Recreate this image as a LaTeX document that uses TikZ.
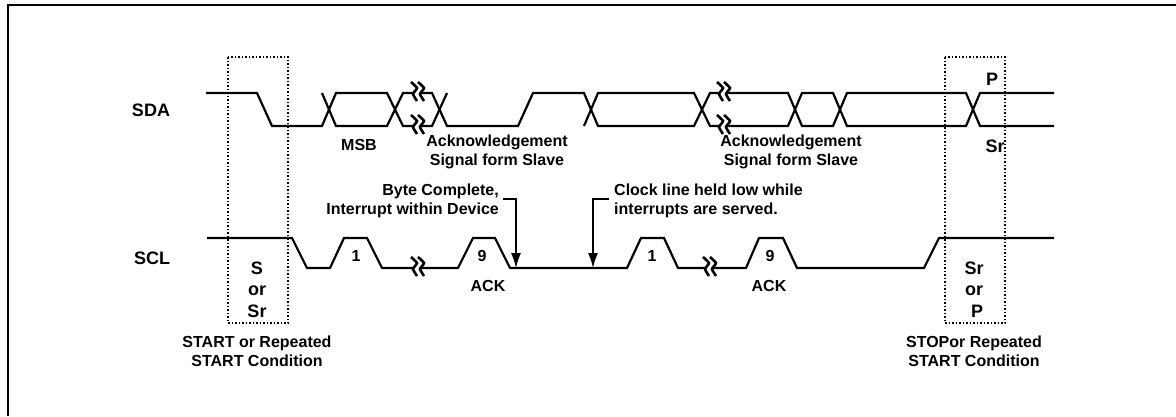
\documentclass[tikz,border=0pt]{standalone}
\usepackage{fontspec}
\setmainfont{Liberation Sans}
\usetikzlibrary{arrows.meta}
\tikzset{
	signal/.style={line width=2.2pt,line join=miter},
	guard/.style={line width=1.5pt,dash pattern=on 1.5pt off 2pt},
	lab/.style={font=\bfseries\fontsize{16}{19}\selectfont,align=center,inner sep=0pt},
	biglab/.style={font=\bfseries\fontsize{18}{20}\selectfont,inner sep=0pt},
	pointer/.style={line width=1.5pt,-{Latex[length=15pt,width=10pt]}},
}
\newcommand{\sigbreak}[2]{
	\begin{scope}[shift={(#1,#2)}]
		\fill[white] (-4,-6) rectangle (3,6);
		\draw[line width=2.6pt] plot [smooth, tension=.3] coordinates {(-7,-11) (-1,-5) (-5,1) (-1,8)};
		\draw[line width=2.6pt] plot [smooth, tension=.3] coordinates {(0,-11) (6,-5) (2,1) (6,8)};
	\end{scope}
}
\begin{document}
\begin{tikzpicture}[x=1pt,y=-1pt]
	\useasboundingbox (0,0) rectangle (1176,416);
	\coordinate (byteTop) at (503,199);
	\coordinate (byteKnee) at (516,199);
	\coordinate (byteEnd) at (516,268);
	\coordinate (clockTop) at (609,199);
	\coordinate (clockKnee) at (593,199);
	\coordinate (clockEnd) at (593,268);

	% frame
	\draw[line width=2pt] (8,416) -- (8,5) -- (1176,5);

	% start and stop windows
	\draw[guard] (228,57) rectangle (288,323);
	\draw[guard] (945,57) rectangle (1005,323);

	% SDA
	\begin{scope}[signal]
	\draw (206,93) -- (257,93) -- (272,126) -- (322,126) -- (336,93) -- (387,93) -- (403,126) -- (432,126) -- (447,93);
	\draw (322,93) -- (336,126) -- (387,126) -- (403,93) -- (432,93) -- (447,126) -- (518,126) -- (533,93) -- (584,93) -- (598,126) -- (694,126) -- (710,93) -- (788,93) -- (802,126) -- (833,126) -- (847,93) -- (966,93) -- (980,126) -- (1054,126);
	\draw (584,126) -- (598,93) -- (694,93) -- (710,126) -- (788,126) -- (802,93) -- (833,93) -- (847,126) -- (966,126) -- (980,93) -- (1054,93);
	\end{scope}
	\sigbreak{418}{93}
	\sigbreak{418}{126}
	\sigbreak{724}{93}
	\sigbreak{724}{126}

	% SCL
	\draw[signal] (207,238) -- (292,238) -- (307,268) -- (330,268) -- (344,238) -- (367,238) -- (382,268) -- (458,268) -- (473,238) -- (495,238) -- (510,268) -- (627,268) -- (641,238) -- (664,238) -- (678,268) -- (746,268) -- (759,238) -- (783,238) -- (797,268) -- (924,268) -- (939,238) -- (1054,238);
	\sigbreak{418}{268}
	\sigbreak{710}{268}

	% arrows
	\draw[pointer] (byteTop) -- (byteKnee) -- (byteEnd);
	\draw[pointer] (clockTop) -- (clockKnee) -- (clockEnd);

	% labels
	\node[biglab] (sda) at (151,110) {SDA};
	\node[biglab] (scl) at (152,258) {SCL};
	\node[lab] (msb) at (359,145) {MSB};
	\node[lab] (ackOne) at (497,152) {Acknowledgement\\Signal form Slave};
	\node[lab] (ackTwo) at (791,152) {Acknowledgement\\Signal form Slave};
	\node[lab,align=right,anchor=east] (byteLab) at (499,201) {Byte Complete,\\Interrupt within Device};
	\node[lab,align=left,anchor=west] (clockLab) at (614,201) {Clock line held low while\\interrupts are served.};
	\node[lab] (oneA) at (356,256) {1};
	\node[lab] (nineA) at (482,256) {9};
	\node[lab] (ackA) at (488,286) {ACK};
	\node[lab] (oneB) at (652,256) {1};
	\node[lab] (nineB) at (770,256) {9};
	\node[lab] (ackB) at (769,286) {ACK};
	\node[biglab] (sLab) at (257,268) {S};
	\node[biglab] (orLab) at (257,291) {or};
	\node[biglab] (srLab) at (257,311) {Sr};
	\node[biglab] (srStop) at (974,268) {Sr};
	\node[biglab] (orStop) at (974,291) {or};
	\node[biglab] (pStop) at (977,311) {P};
	\node[biglab] (pTop) at (992,79) {P};
	\node[biglab] (srTop) at (995,146) {Sr};
	\node[lab] (startLab) at (257,351.5) {START or Repeated\\START Condition};
	\node[lab] (stopLab) at (974,351.5) {STOPor Repeated\\START Condition};
\end{tikzpicture}
\end{document}
